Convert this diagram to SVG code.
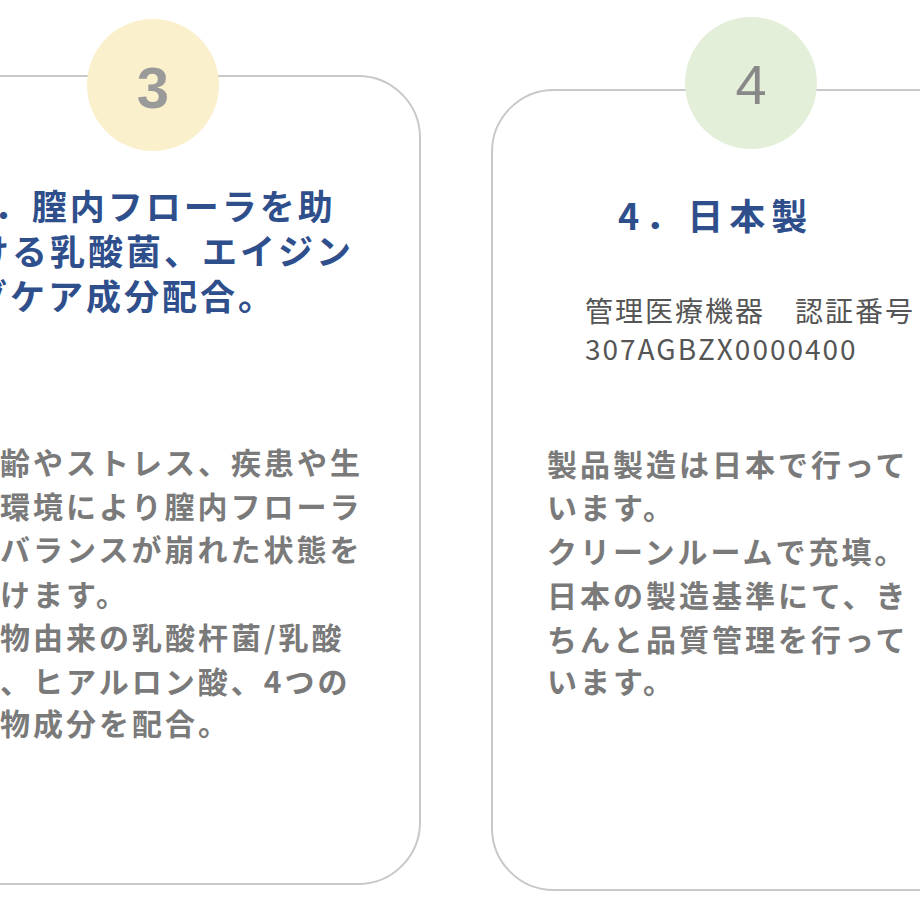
<svg xmlns="http://www.w3.org/2000/svg" width="920" height="920" viewBox="0 0 920 920">
<style>
.card{fill:#fff;stroke:#c8c8c8;stroke-width:2}
.t{font-family:"Noto Sans CJK JP",sans-serif;font-weight:bold;fill:#2f4f8c;font-size:35px;letter-spacing:3px}
.b{font-family:"Noto Sans CJK JP",sans-serif;font-weight:bold;fill:#7a7a7a;font-size:30px;letter-spacing:3px}
.n{font-family:"Noto Sans CJK JP",sans-serif;fill:#555;font-size:28px;letter-spacing:2px}
</style>
<rect width="920" height="920" fill="#fff"/>
<g id="card3">
<rect class="card" x="-80" y="76" width="500" height="808" rx="62"/>
<circle cx="153" cy="85" r="66" fill="#fbf0cc"/>
<text x="153" y="108" text-anchor="middle" font-family="Liberation Sans,sans-serif" font-weight="bold" font-size="58" fill="#9a9a9a">3</text>
<text class="t" x="-30" y="220">3．膣内フローラを助</text>
<text class="t" x="-26" y="265">ける乳酸菌、エイジン</text>
<text class="t" x="-28" y="310">グケア成分配合。</text>
<text class="b" x="-33" y="474">加齢やストレス、疾患や生</text>
<text class="b" x="-33" y="518">活環境により膣内フローラ</text>
<text class="b" x="-33" y="561">のバランスが崩れた状態を</text>
<text class="b" x="-33" y="606">助けます。</text>
<text class="b" x="-33" y="649">植物由来の乳酸杆菌/乳酸</text>
<text class="b" x="-33" y="693">菌、ヒアルロン酸、4つの</text>
<text class="b" x="-33" y="735">植物成分を配合。</text>
</g>
<g id="card4">
<rect class="card" x="492" y="90" width="520" height="800" rx="62"/>
<circle cx="751" cy="83" r="66" fill="#e3efd9"/>
<text x="751" y="104" text-anchor="middle" font-family="Liberation Sans,sans-serif" font-size="56" fill="#888">4</text>
<text class="t" x="618" y="230" style="font-size:36px;letter-spacing:6px">4．日本製</text>
<text class="n" x="585" y="322">管理医療機器　認証番号</text>
<text class="n" x="585" y="360">307AGBZX0000400</text>
<text class="b" x="547" y="476">製品製造は日本で行って</text>
<text class="b" x="547" y="519">います。</text>
<text class="b" x="547" y="563">クリーンルームで充填。</text>
<text class="b" x="547" y="607">日本の製造基準にて、き</text>
<text class="b" x="547" y="651">ちんと品質管理を行って</text>
<text class="b" x="547" y="693">います。</text>
</g>
<g id="connectors"/>
</svg>
